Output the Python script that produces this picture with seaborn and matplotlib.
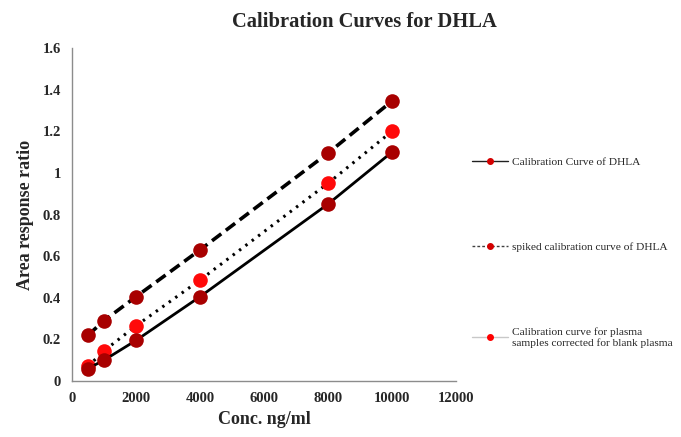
import matplotlib
matplotlib.use("Agg")
import matplotlib.pyplot as plt
from matplotlib.lines import Line2D
import seaborn as sns
import pandas as pd

# Concentrations (ng/ml) and area response ratios for each calibration series
conc = [500, 1000, 2000, 4000, 8000, 10000]
spiked_ratio = [0.22, 0.29, 0.405, 0.63, 1.095, 1.345]
plasma_ratio = [0.07, 0.145, 0.265, 0.485, 0.95, 1.20]
standard_ratio = [0.06, 0.10, 0.195, 0.405, 0.85, 1.10]

legend_labels = [
    "Calibration Curve of DHLA",
    "spiked calibration curve of DHLA",
    "Calibration curve for plasma\nsamples corrected for blank plasma",
]

sns.set_theme(style="white")
plt.rcParams["font.family"] = ["Liberation Serif", "DejaVu Serif"]

df = pd.DataFrame({
    "conc": conc * 3,
    "ratio": spiked_ratio + plasma_ratio + standard_ratio,
    "series": ["spiked"] * 6 + ["plasma"] * 6 + ["standard"] * 6,
})

fig = plt.figure(figsize=(6.81, 4.37), dpi=100)
ax = fig.add_axes([72 / 681, 1 - 381 / 437, (456 - 72) / 681, (381 - 48) / 437])

dark_red = "#a80000"
bright_red = "#ff0a0a"

styles = {
    "spiked": dict(linestyle=(0, (3.2, 1.6)), linewidth=2.6, mfc=dark_red),
    "plasma": dict(linestyle=(0, (0.8, 1.8)), linewidth=2.2, mfc=bright_red),
    "standard": dict(linestyle="-", linewidth=2.0, mfc=dark_red),
}

for name in ["spiked", "plasma", "standard"]:
    st = styles[name]
    sub = df[df["series"] == name]
    sns.lineplot(data=sub, x="conc", y="ratio", ax=ax, color="black",
                 linestyle=st["linestyle"], linewidth=st["linewidth"],
                 marker="o", markersize=10.5, markerfacecolor=st["mfc"],
                 markeredgecolor=st["mfc"], markeredgewidth=0,
                 legend=False, errorbar=None, sort=False)

ax.set_xlim(0, 12000)
ax.set_ylim(0, 1.6)
ax.set_xticks(range(0, 12001, 2000))
ax.set_yticks([0, 0.2, 0.4, 0.6, 0.8, 1.0, 1.2, 1.4, 1.6])
ax.set_yticklabels(["0", "0.2", "0.4", "0.6", "0.8", "1", "1.2", "1.4", "1.6"])

for side in ["top", "right"]:
    ax.spines[side].set_visible(False)
for side in ["left", "bottom"]:
    ax.spines[side].set_color("#8c8c8c")
    ax.spines[side].set_linewidth(1.0)

ax.tick_params(axis="both", which="major", direction="inout", length=6,
               width=1, color="#8c8c8c", labelsize=10.5, pad=5)
for lbl in ax.get_xticklabels() + ax.get_yticklabels():
    lbl.set_fontweight("bold")

ax.set_xlabel("Conc. ng/ml", fontsize=13, fontweight="bold", labelpad=4)
ax.set_ylabel("Area response ratio", fontsize=13, fontweight="bold", labelpad=6)

fig.text(364 / 681, 1 - 22 / 437, "Calibration Curves for DHLA",
         ha="center", va="center", fontsize=14.8, fontweight="bold")

handles = [
    Line2D([], [], color="#202020", linestyle="-", linewidth=1.0,
           marker="o", markersize=4, markerfacecolor="#d40000", markeredgecolor="#d40000"),
    Line2D([], [], color="#404040", linestyle=(0, (2, 1.5)), linewidth=1.0,
           marker="o", markersize=4, markerfacecolor="#d40000", markeredgecolor="#d40000"),
    Line2D([], [], color="#c8c8c8", linestyle="-", linewidth=1.0,
           marker="o", markersize=4, markerfacecolor="#ff0000", markeredgecolor="#ff0000"),
]
fig.legend(handles, legend_labels, loc="upper left",
           bbox_to_anchor=(472 / 681, 1 - 157 / 437), frameon=False,
           fontsize=8.2, labelspacing=6.6, handlelength=3.2, handletextpad=0.35,
           borderpad=0, borderaxespad=0)

fig.savefig("out.png", dpi=100)
